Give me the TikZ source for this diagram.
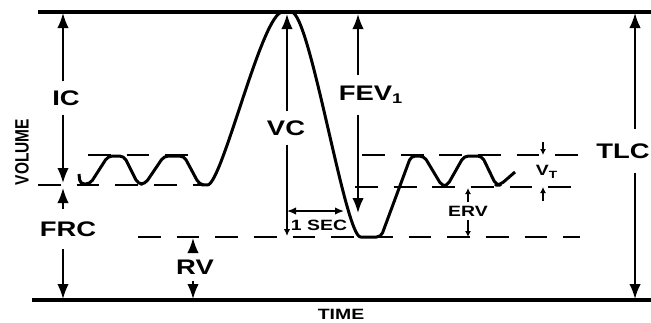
\documentclass[tikz,border=0pt]{standalone}
\usepackage{fontspec}
\setmainfont{Liberation Sans}
\newfontfamily\lblfont[FakeStretch=1.3]{Liberation Sans}
\newfontfamily\volfont[FakeStretch=0.8]{Liberation Sans}
\usetikzlibrary{arrows, arrows.meta, positioning}
\tikzstyle{level}      = [line width=1.8pt]
\tikzstyle{dashlevel}  = [line width=1.3pt, dash pattern=on 13pt off 9pt]
\tikzstyle{trace}      = [line width=1.7pt, rounded corners=2.5pt, line join=round]
\tikzstyle{bigarrow}   = [line width=1.1pt, -{Latex[length=3mm,width=2.3mm]}]
\tikzstyle{smallarrow} = [line width=0.9pt, -{Latex[length=1.4mm,width=1.3mm]}]
\tikzstyle{tinyarrow}  = [line width=0.8pt, -{Latex[length=1.2mm,width=1.2mm]}]
\tikzstyle{biglabel}   = [font=\lblfont\bfseries\fontsize{12pt}{12pt}\selectfont, inner xsep=1pt, inner ysep=5pt]
\tikzstyle{smalllabel} = [font=\lblfont\bfseries\fontsize{8.5pt}{8.5pt}\selectfont, inner sep=2pt]
\tikzstyle{vollabel}   = [font=\volfont\bfseries\fontsize{11pt}{11pt}\selectfont, rotate=90]

\begin{document}
\begin{tikzpicture}[x=0.02cm, y=-0.02cm]
\useasboundingbox (0,0) rectangle (651,322);

\coordinate (tl) at (38,12);
\coordinate (tr) at (651,12);
\coordinate (bl) at (32,300);
\coordinate (br) at (651,300);

\draw[level] (tl) -- (tr);
\draw[level] (bl) -- (br);

\coordinate (uL1) at (88,155);   \coordinate (uL2) at (196,155);
\coordinate (fL1) at (38,185);   \coordinate (fL2) at (206,185);
\coordinate (uR1) at (362,155);  \coordinate (uR2) at (580,155);
\coordinate (fR1) at (355,187);  \coordinate (fR2) at (580,187);
\coordinate (rv1) at (138,237);  \coordinate (rv2) at (580,237);

\draw[dashlevel] (uL1) -- (uL2);
\draw[dashlevel] (fL1) -- (fL2);
\draw[dashlevel] (uR1) -- (uR2);
\draw[dashlevel] (fR1) -- (fR2);
\draw[dashlevel] (rv1) -- (rv2);

\draw[trace] (79,174) -- (80,184) -- (90,184) -- (108,156) -- (124,156) -- (138,184)
  -- (145,184) -- (164,156) -- (184,156) -- (199,184) -- (203,185)
  .. controls (222,185) and (262,12) .. (287,12)
  .. controls (310,12) and (345,237) .. (365,237)
  -- (381,237) -- (411,156) -- (424,156) -- (442,186) -- (447,186) -- (464,156)
  -- (482,156) -- (496,185) -- (500,185) -- (515,172);

\node[vollabel] (VOL) at (22,152) {VOLUME};
\node[smalllabel] (TIME) at (341,314) {TIME};

\node[biglabel] (IC) at (66,98) {IC};
\coordinate (icT) at (63,13);
\coordinate (icB) at (63,183);
\draw[bigarrow] (IC.north -| icT) -- (icT);
\draw[bigarrow] (IC.south -| icB) -- (icB);

\node[biglabel, inner ysep=7pt] (FRC) at (68,229) {FRC};
\coordinate (frcT) at (63,188);
\coordinate (frcB) at (63,299);
\draw[bigarrow] (FRC.north -| frcT) -- (frcT);
\draw[bigarrow] (FRC.south -| frcB) -- (frcB);

\node[biglabel, inner ysep=3.5pt] (RV) at (195,267) {RV};
\coordinate (rvT) at (193,238);
\coordinate (rvB) at (193,299);
\draw[bigarrow] (RV.north -| rvT) -- (rvT);
\draw[bigarrow] (RV.south -| rvB) -- (rvB);

\node[biglabel] (VC) at (286,128) {VC};
\coordinate (vcT) at (287,14);
\coordinate (vcB) at (287,236);
\draw[bigarrow] (VC.north -| vcT) -- (vcT);
\draw[smallarrow] (VC.south -| vcB) -- (vcB);

\node[biglabel, inner ysep=6pt] (FEV) at (371,95) {FEV\textsubscript{1}};
\coordinate (fevT) at (358,14);
\coordinate (fevB) at (358,213);
\draw[bigarrow] (FEV.north -| fevT) -- (fevT);
\draw[bigarrow] (FEV.south -| fevB) -- (fevB);

\node[biglabel, inner ysep=8pt] (TLC) at (623,151) {TLC};
\coordinate (tlcT) at (635,13);
\coordinate (tlcB) at (635,299);
\draw[bigarrow] (TLC.north -| tlcT) -- (tlcT);
\draw[bigarrow] (TLC.south -| tlcB) -- (tlcB);

\node[smalllabel] (SEC) at (319,225) {1 SEC};
\coordinate (secL) at (287,211);
\coordinate (secR) at (344,211);
\draw[smallarrow, {Latex[length=1.8mm,width=1.5mm]}-{Latex[length=1.8mm,width=1.5mm]}] (secL) -- (secR);

\node[smalllabel] (ERV) at (468,211) {ERV};
\coordinate (ervT) at (468,188);
\coordinate (ervB) at (468,237);
\draw[tinyarrow] (ERV.north) -- (ervT);
\draw[tinyarrow] (ERV.south) -- (ervB);

\node[smalllabel] (VT) at (547,172) {V\textsubscript{T}};
\coordinate (vtA) at (543,142);
\coordinate (vtAe) at (543,155);
\coordinate (vtB) at (543,201);
\coordinate (vtBe) at (543,187);
\draw[tinyarrow] (vtA) -- (vtAe);
\draw[tinyarrow] (vtB) -- (vtBe);

\end{tikzpicture}
\end{document}
